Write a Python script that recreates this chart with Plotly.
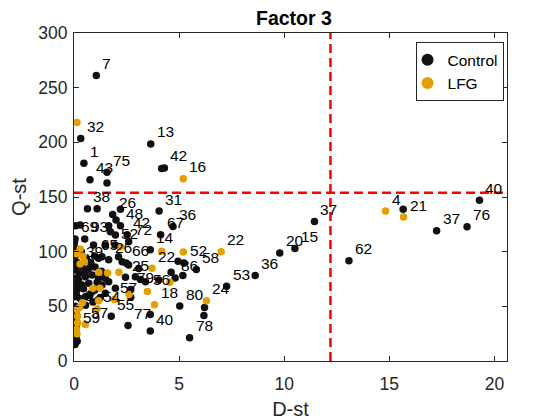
import plotly.graph_objects as go

# ---- Data ----
control_x = [1.06, 0.32, 0.47, 0.76, 1.57, 1.57, 3.65, 4.17, 4.30,
             0.64, 1.10, 2.21, 4.05, 1.84, 4.71, 4.12, 2.21,
             0.05, 0.02, 0.51, 0.08, 0.29, 1.65, 2.53, 1.73, 1.95, 2.60,
             1.97, 0.98, 1.65, 2.48, 1.17, 2.29, 2.60, 3.08, 2.92, 2.45, 3.40, 2.70,
             3.16, 4.03, 3.63, 1.49, 1.97, 0.93, 1.49, 1.33, 2.12, 2.00,
             4.95, 5.23, 4.62, 4.81, 5.18, 5.82, 5.03, 6.21, 6.18, 5.50,
             7.26, 8.62, 9.79, 10.51, 11.44, 13.08, 15.66, 17.25, 18.70, 19.29,
             3.63, 2.57, 3.63, 1.77, 2.70, 1.14, 0.54,
             0.02, 0.06, 0.38, 0.70, 0.02, 0.22, 0.54, 0.86, 1.17, 1.49, 1.65,
             0.38, 0.70, 1.33, 0.86, 1.49, 0.14, 0.03, 0.10, 0.25, 0.55, 1.00,
             1.30, 0.45, 0.75, 1.10, 0.15, 0.05, 0.30, 0.05, 0.10, 0.08, 0.10,
             0.05, 0.10, 0.15, 0.05, 0.12, 0.60, 0.35, 0.02, 0.80, 1.00, 1.25,
             0.90, 0.55]
control_y = [261.1, 203.6, 180.9, 165.7, 172.6, 162.9, 198.5, 176.0, 176.6,
             139.2, 139.2, 138.9, 137.1, 134.0, 123.1, 115.5, 123.7,
             111.6, 108.5, 111.6, 123.7, 124.3, 123.7, 115.5, 118.2, 106.0, 109.0,
             115.2, 96.0, 92.5, 89.7, 93.9, 90.8, 87.8, 84.7, 77.1, 76.6, 72.5, 65.3,
             74.5, 74.0, 101.8, 75.6, 66.5, 106.0, 106.0, 95.3, 95.3, 129.0,
             91.2, 89.7, 81.2, 76.0, 78.1, 83.6, 50.2, 48.9, 41.6, 21.3,
             68.4, 78.1, 98.8, 103.0, 127.7, 91.8, 138.9, 119.1, 122.8, 147.1,
             42.6, 32.5, 27.4, 41.0, 58.4, 55.8, 58.8,
             83.2, 84.7, 86.2, 84.7, 75.6, 74.0, 77.1, 78.6, 75.6, 77.1, 72.5,
             69.5, 71.0, 69.5, 63.3, 61.9, 64.9, 58.8, 70.0, 80.0, 82.0, 86.0,
             82.0, 66.0, 60.0, 72.0, 90.0, 96.0, 57.0, 50.0, 45.0, 38.0, 32.0,
             25.0, 21.0, 18.0, 15.0, 60.0, 93.0, 100.0, 104.0, 90.0, 65.0, 58.0,
             54.0, 51.0]
control_labels = ["7", "32", "1", "43", "75", "", "13", "", "42",
                  "38", "", "", "31", "26", "36", "67", "48",
                  "69", "", "93", "", "", "", "42", "", "52", "72",
                  "", "65", "26", "66", "", "", "", "", "", "25", "", "79",
                  "", "", "14", "", "", "", "", "", "", "",
                  "", "52", "", "86", "", "58", "80", "", "", "78",
                  "53", "36", "20", "15", "37", "62", "", "37", "76", "40",
                  "", "77", "40", "55", "", "", "",
                  "", "", "", "", "", "", "", "", "", "", "",
                  "", "", "", "", "", "", "", "", "", "", "",
                  "", "", "", "", "", "", "", "", "", "", "",
                  "", "", "", "", "", "", "", "", "", "", "",
                  "", ""]

lfg_x = [0.14, 5.20, 14.82, 15.68, 7.00, 5.20, 4.17, 2.21, 3.71, 4.56,
         3.49, 3.83, 6.30, 2.62, 2.14, 1.60, 1.18, 1.23, 0.88, 1.91,
         0.40, 0.54, 0.12, 0.29, 0.42, 0.29, 0.49, 0.14, 0.17, 0.17,
         0.12, 0.14, 0.25, 1.10, 1.17]
lfg_y = [218.2, 166.6, 137.1, 131.6, 100.0, 99.7, 100.3, 104.3, 84.8, 72.0,
         63.5, 51.4, 55.0, 60.8, 81.2, 80.5, 81.2, 66.6, 66.3, 56.2,
         53.2, 33.4, 98.2, 102.4, 95.7, 88.8, 90.9, 47.1, 41.0, 35.0,
         28.9, 24.9, 48.6, 47.7, 55.0]
lfg_labels = ["", "16", "4", "21", "22", "", "", "", "22", "",
              "56", "18", "24", "", "", "", "", "", "", "57",
              "", "57", "", "", "", "39", "", "", "", "",
              "59", "", "9", "54", ""]

d_thresh = 12.2
q_thresh = 154.0

x_ticks = [0, 5, 10, 15, 20]
y_ticks = [0, 50, 100, 150, 200, 250, 300]

FONT = "Liberation Sans, Arial, Helvetica, sans-serif"
AXC = "#262626"
ORANGE = "#E69F00"

# The page body has an 8px default margin; size the figure so it fits the window.
W, H = 552, 412

fig = go.Figure()
fig.add_trace(go.Scatter(x=control_x, y=control_y, mode="markers", name="Control",
                         marker=dict(color="#111111", size=7.5, line=dict(width=0))))
fig.add_trace(go.Scatter(x=lfg_x, y=lfg_y, mode="markers", name="LFG",
                         marker=dict(color=ORANGE, size=7.5, line=dict(width=0))))

annotations = []
for xs, ys, labs in ((control_x, control_y, control_labels), (lfg_x, lfg_y, lfg_labels)):
    for xv, yv, lab in zip(xs, ys, labs):
        if lab:
            annotations.append(dict(x=xv, y=yv, text=lab, showarrow=False,
                                    xanchor="left", yanchor="middle",
                                    xshift=4, yshift=12,
                                    font=dict(family=FONT, size=15.5, color="#000000")))

shapes = [
    dict(type="line", xref="x", yref="paper", x0=d_thresh, x1=d_thresh, y0=0, y1=1,
         line=dict(color="#FF0000", width=2.5, dash="9px,5px")),
    dict(type="line", xref="paper", yref="y", x0=0, x1=1, y0=q_thresh, y1=q_thresh,
         line=dict(color="#FF0000", width=2.5, dash="9px,5px")),
]

fig.update_layout(
    width=W, height=H,
    margin=dict(l=66, r=53, t=25, b=59, autoexpand=False),
    paper_bgcolor="white", plot_bgcolor="white",
    font=dict(family=FONT, color=AXC),
    title=dict(text="<b>Factor 3</b>", x=0.518, xanchor="center",
               y=1 - 3 / H, yanchor="top", yref="container",
               font=dict(family=FONT, size=19.5, color="#000000")),
    showlegend=True,
    legend=dict(x=0.992, xanchor="right", y=0.972, yanchor="top",
                bgcolor="white", bordercolor=AXC, borderwidth=1,
                font=dict(family=FONT, size=15.5, color="#000000"),
                tracegroupgap=0, itemsizing="constant", indentation=-9),
    annotations=annotations,
    shapes=shapes,
)
fig.update_xaxes(range=[0, 20.6], tickvals=x_ticks, ticktext=[str(v) for v in x_ticks],
                 automargin=False,
                 showgrid=False, zeroline=False, showline=True, linecolor=AXC, linewidth=1,
                 mirror="ticks", ticks="inside", ticklen=5, tickcolor=AXC,
                 ticklabelstandoff=7,
                 tickfont=dict(family=FONT, size=17.5, color=AXC),
                 title=dict(text="D-st", font=dict(family=FONT, size=20, color=AXC), standoff=10))
fig.update_yaxes(range=[0, 300], tickvals=y_ticks, ticktext=[str(v) for v in y_ticks],
                 automargin=False,
                 showgrid=False, zeroline=False, showline=True, linecolor=AXC, linewidth=1,
                 mirror="ticks", ticks="inside", ticklen=5, tickcolor=AXC,
                 ticklabelstandoff=2,
                 tickfont=dict(family=FONT, size=17.5, color=AXC),
                 title=dict(text="Q-st", font=dict(family=FONT, size=20, color=AXC), standoff=8))

fig.write_html("out.html")
